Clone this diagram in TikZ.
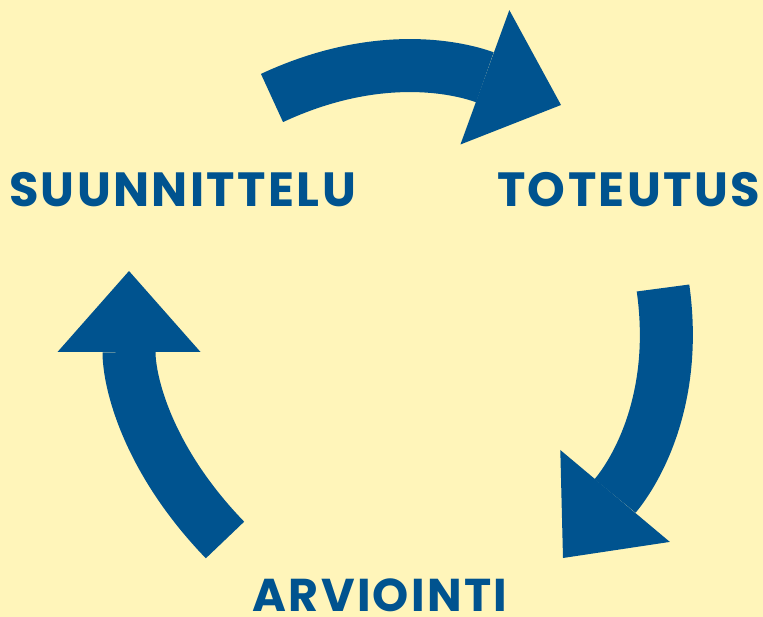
\documentclass[tikz,border=0pt]{standalone}
\usepackage{fontspec}
\setmainfont{Poppins}[LetterSpace=5]
\usetikzlibrary{arrows.meta}
\definecolor{kelta}{RGB}{255,245,186}
\definecolor{sini}{RGB}{0,83,143}
\tikzset{vaihe/.style={text=sini,font=\bfseries\fontsize{48}{48}\selectfont,anchor=base,inner sep=0pt},
kaari/.style={sini,line width=53pt,-{Triangle[length=81pt,width=143pt,line width=0pt]}}}
\begin{document}
\begin{tikzpicture}[x=1pt,y=1pt]
\fill[kelta](0,0)rectangle(763,-617);
\useasboundingbox(0,0)rectangle(763,-617);
\node[vaihe](suunnittelu)at(182.5,-207){SUUNNITTELU};
\node[vaihe](toteutus)at(628.5,-207){TOTEUTUS};
\node[vaihe,font=\bfseries\fontsize{46}{46}\selectfont](arviointi)at(380,-611){ARVIOINTI};
\coordinate(s1)at(272,-98);\coordinate(t1)at(561,-105);
\coordinate(s2)at(663,-288);\coordinate(t2)at(563,-558);
\coordinate(s3)at(225,-540);\coordinate(t3)at(129,-271);
\draw[kaari](s1)to[out=25,in=160](t1);
\draw[kaari](s2)to[out=-82,in=50](t2);
\draw[kaari](s3)to[out=134,in=270](t3);
\end{tikzpicture}
\end{document}
